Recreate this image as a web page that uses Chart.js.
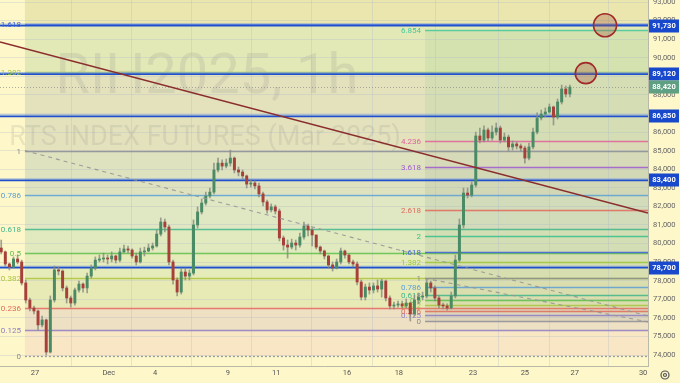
<!DOCTYPE html>
<html><head><meta charset="utf-8">
<script src="https://cdn.jsdelivr.net/npm/chart.js@4.4.1/dist/chart.umd.min.js"></script>
<style>html,body{margin:0;padding:0;background:#fdf7c9;}canvas{display:block;}</style>
</head><body>
<canvas id="c" width="680" height="383"></canvas>
<script>
// ---------- DATA (hourly-ish bars) ----------
const firstOpen = 79760;
const closes = [
79550,78900,78740,79170,79010,77880,76960,76530,76370,75620,
75890,74160,76960,78580,78520,77610,77070,76800,77500,77820,
77610,78250,78680,79110,79170,79220,79170,79330,79110,79550,
79710,79650,79330,79010,79550,79600,79760,79870,80510,81160,
80890,79010,78040,77390,78470,78250,78410,81000,81700,82180,
82560,82770,83960,84330,84170,84330,84600,83960,83850,83640,
83200,83260,83100,82670,82240,81810,81970,81750,80300,79920,
79810,80030,79920,80350,80940,80730,80460,79810,79600,79330,
78850,78680,79010,79600,79380,79010,78900,77930,77120,77660,
77500,77720,77550,77980,77070,76640,76690,76750,76640,76800,
76210,76960,77120,77180,77880,77610,77070,76690,76640,76530,
77180,79110,81000,82720,82610,83150,85790,85570,86110,85680,
86000,86220,85570,85730,85200,85360,85250,85140,84600,85200,
86000,86760,86970,87080,87350,86810,87620,88320,88050,88420];
const highs = [
80190,79600,78950,79280,79380,79110,78040,77070,76640,76420,
76100,75940,77180,78790,78740,78580,77720,77180,77610,77980,
77880,78410,78850,79280,79380,79490,79380,79550,79380,79760,
79920,79870,79710,79490,79760,79810,79980,80030,80730,81380,
81320,81000,79110,78150,78680,78680,78580,81270,81970,82400,
82770,82990,84330,84600,84500,84550,85030,84660,84120,83960,
83690,83420,83370,83260,82770,82340,82130,82070,81860,80410,
80190,80240,80190,80570,81160,81050,80840,80460,79870,79650,
79380,79010,79170,79760,79650,79440,79110,79010,78040,77820,
77880,77880,78040,78090,78040,77180,76850,76910,76910,77020,
76850,77230,77340,77390,78090,77980,77720,77180,76800,76750,
77390,79380,81320,82990,82990,83310,86000,86220,86330,86220,
86330,86490,86330,85950,85840,85520,85470,85360,85250,85410,
86220,87030,87190,87300,87510,87400,87780,88530,88480,88530];
const lows = [
79440,78790,78580,78680,78900,77770,76800,76370,76210,75350,
75510,74000,74110,76850,78310,77450,76800,76580,76690,77390,
77390,77340,78150,78580,79010,79010,78900,79010,78950,79010,
79490,79490,79220,78850,78950,79330,79550,79650,79810,80410,
80620,78850,77820,77180,77280,78040,78040,78310,80840,81590,
82070,82450,82670,83850,83960,84070,84170,83800,83640,83470,
82990,83040,82940,82510,82020,81640,81700,81590,80140,79650,
79220,79710,79650,79810,80240,80410,79870,79710,79440,79170,
78680,78520,78630,78900,79220,78900,78740,77770,76960,76960,
77280,77340,77390,77120,76910,76480,76480,76580,76530,76530,
75830,76100,76750,76960,77070,77390,76910,76530,76480,76420,
76480,77070,79010,80840,82450,82510,83040,85410,85470,85520,
85570,85840,85410,85470,84980,85030,85090,84980,84330,84500,
85090,85900,86650,86810,87030,86380,86700,87510,87890,87890];
const lastPrice = 88420;

const xTickLabels = ['27','Dec','4','9','11','16','18','23','25','27','30'];
const xTickBars   = [8.25, 26.3, 37.6, 55.4, 67.2, 84.5, 97.2, 115.3, 128.0, 140.2, 156.9];
const priceTicks  = [74000,75000,76000,77000,78000,79000,80000,81000,82000,83000,
                     84000,85000,86000,87000,88000,89000,90000,91000,92000,93000];

const hLevels = [91730, 89120, 86850, 83400, 78700];

const fib1Anchor = {bar: 5.8, p0: 73946, p1: 84996};
const fib1Levels = [0, 0.125, 0.236, 0.382, 0.5, 0.618, 0.786, 1, 1.382, 1.618];
const fib2Anchor = {bar: 103.6, p0: 75846, p1: 78128};
const fib2Levels = [0, 0.125, 0.236, 0.382, 0.5, 0.618, 0.786, 1, 1.382, 1.618, 2, 2.618, 3.618, 4.236, 6.854];

const trendLine = [{x: -0.3, y: 90850}, {x: 158.1, y: 81640}];
const dashLine1 = [{x: 5.8, y: 85000}, {x: 158.1, y: 76100}];
const dashLine2 = [{x: 103.6, y: 78130}, {x: 158.1, y: 75780}];
const circlePts = [{x: 147.6, y: 91750}, {x: 142.9, y: 89170}];

// ---------- STYLE ----------
const BASE = '#fdf7c9';
const circleRadii = [11.5, 10.5];
const levelColor = {
  '0':'#8a8d96','0.125':'#8e7cc3','0.236':'#e06a5a','0.382':'#a9c440','0.5':'#5cbf4a',
  '0.618':'#3fb58a','0.786':'#5a9fd4','1':'#8a8d96','1.382':'#9cc83a','1.618':'#3d5fd6',
  '2':'#35c08a','2.618':'#e06a5a','3.618':'#a05ad0','4.236':'#e0609a','6.854':'#45c89a'};
const fib1Zones = [
  [1.618, 2.618, '#ebe6ae'], [1.382, 1.618, '#e3e8b7'], [1, 1.382, '#e4e2bd'],
  [0.786, 1, '#dfe2bf'], [0.618, 0.786, '#dfe7c3'], [0.5, 0.618, '#e1eabe'],
  [0.382, 0.5, '#e5ebb9'], [0.236, 0.382, '#e8eab6'], [0.125, 0.236, '#ede0c3'],
  [0, 0.125, '#f8e6c5']];
const fib2Zones = [
  [4.236, 6.854, 'rgba(90,175,120,0.10)'], [3.618, 4.236, 'rgba(110,120,100,0.07)'],
  [0, 3.618, 'rgba(95,120,110,0.10)']];

const fibPrice = (a, l) => a.p0 + l * (a.p1 - a.p0);
const fmt = v => v.toLocaleString('en-US');
const opens = [firstOpen].concat(closes.slice(0, -1));
const idx = closes.map((c, i) => i);

const decor = {
  id: 'decor',
  beforeDraw(chart) {
    const {ctx, chartArea: a, scales: {x, y}} = chart;
    ctx.save();
    ctx.fillStyle = BASE; ctx.fillRect(0, 0, chart.width, chart.height);
    ctx.beginPath(); ctx.rect(a.left, a.top, a.right - a.left, a.bottom - a.top); ctx.clip();
    const zone = (anchor, zones) => {
      const xs = x.getPixelForValue(anchor.bar);
      zones.forEach(z => {
        const ya = y.getPixelForValue(fibPrice(anchor, z[0]));
        const yb = y.getPixelForValue(fibPrice(anchor, z[1]));
        ctx.fillStyle = z[2];
        ctx.fillRect(xs, Math.min(ya, yb), a.right - xs, Math.abs(yb - ya));
      });
    };
    zone(fib1Anchor, fib1Zones);
    zone(fib2Anchor, fib2Zones);
    // watermark
    ctx.fillStyle = 'rgba(110,110,110,0.14)';
    ctx.textAlign = 'center'; ctx.textBaseline = 'alphabetic';
    ctx.font = '56px Roboto';
    ctx.fillText('RIH2025, 1h', a.left + 207, a.top + 93);
    ctx.font = '27px Roboto';
    ctx.fillText('RTS INDEX FUTURES (Mar 2025)', a.left + 205, a.top + 145);
    ctx.restore();
  },
  beforeDatasetsDraw(chart) {
    const {ctx, chartArea: a, scales: {x, y}} = chart;
    ctx.save();
    ctx.beginPath(); ctx.rect(a.left, a.top, a.right - a.left, a.bottom - a.top); ctx.clip();
    const fibLines = (anchor, levels) => {
      const xs = x.getPixelForValue(anchor.bar);
      levels.forEach(l => {
        const py = Math.round(y.getPixelForValue(fibPrice(anchor, l))) + 0.5;
        ctx.strokeStyle = levelColor[String(l)];
        ctx.globalAlpha = 0.85;
        ctx.lineWidth = 1.3;
        ctx.setLineDash(l === 0 && anchor === fib1Anchor ? [2, 2] : []);
        ctx.beginPath(); ctx.moveTo(xs, py); ctx.lineTo(a.right, py); ctx.stroke();
      });
      ctx.globalAlpha = 1;
      ctx.setLineDash([]);
    };
    fibLines(fib1Anchor, fib1Levels);
    fibLines(fib2Anchor, fib2Levels);
    // current price dotted line
    const lp = Math.round(y.getPixelForValue(lastPrice)) + 0.5;
    ctx.strokeStyle = 'rgba(140,140,140,0.7)'; ctx.lineWidth = 1; ctx.setLineDash([1, 2]);
    ctx.beginPath(); ctx.moveTo(a.left, lp); ctx.lineTo(a.right, lp); ctx.stroke();
    ctx.setLineDash([]);
    // horizontal blue lines
    hLevels.forEach(p => {
      const py = y.getPixelForValue(p);
      ctx.strokeStyle = 'rgba(120,160,230,0.7)'; ctx.lineWidth = 1;
      ctx.beginPath(); ctx.moveTo(a.left, py - 1.5); ctx.lineTo(a.right, py - 1.5); ctx.stroke();
      ctx.strokeStyle = '#2050cc'; ctx.lineWidth = 1.8;
      ctx.beginPath(); ctx.moveTo(a.left, py); ctx.lineTo(a.right, py); ctx.stroke();
    });
    // fib labels on top of lines
    const fibLabels = (anchor, levels) => {
      const xs = x.getPixelForValue(anchor.bar);
      levels.forEach(l => {
        const py = Math.round(y.getPixelForValue(fibPrice(anchor, l))) + 0.5;
        ctx.fillStyle = levelColor[String(l)];
        ctx.font = '8px Roboto'; ctx.textAlign = 'right'; ctx.textBaseline = 'middle';
        ctx.fillText(String(l), xs - 4, py);
      });
    };
    fibLabels(fib1Anchor, fib1Levels);
    fibLabels(fib2Anchor, fib2Levels);
    ctx.restore();
  },
  afterDraw(chart) {
    const {ctx, chartArea: a, scales: {y}} = chart;
    ctx.save();
    const box = (p, bg) => {
      const py = y.getPixelForValue(p);
      ctx.fillStyle = bg;
      ctx.fillRect(a.right + 1, Math.round(py) - 6.5, 30, 13);
      ctx.fillStyle = '#ffffff';
      ctx.font = 'bold 7.5px Roboto'; ctx.textAlign = 'center'; ctx.textBaseline = 'middle';
      ctx.fillText(fmt(p), a.right + 16, Math.round(py) + 0.5);
    };
    hLevels.forEach(p => box(p, '#1848cc'));
    box(lastPrice, '#5f9f82');
    // settings icon
    const gx = a.right + 17, gy = a.bottom + 9;
    ctx.strokeStyle = '#555'; ctx.lineWidth = 1.2;
    ctx.beginPath(); ctx.arc(gx, gy, 4, 0, Math.PI * 2); ctx.stroke();
    ctx.beginPath(); ctx.arc(gx, gy, 1.5, 0, Math.PI * 2); ctx.stroke();
    ctx.restore();
  }
};

Chart.defaults.font.family = 'Roboto';
Chart.defaults.font.size = 7.5;

const zeroPad = s => { s.paddingTop = 0; s.paddingBottom = 0; s.paddingLeft = 0; s.paddingRight = 0; };

new Chart(document.getElementById('c'), {
  type: 'bar',
  data: {
    datasets: [
      { type: 'scatter', data: circlePts, order: 1,
        pointRadius: ctx => circleRadii[ctx.dataIndex],
        pointBackgroundColor: 'rgba(165,85,60,0.32)', pointBorderColor: '#a02a2a', pointBorderWidth: 1.6 },
      { type: 'line', data: trendLine, order: 2, borderColor: '#8b2d2d', borderWidth: 1.6, pointRadius: 0 },
      { type: 'line', data: dashLine1, order: 3, borderColor: 'rgba(150,150,150,0.9)', borderWidth: 1.1, borderDash: [4, 4], pointRadius: 0 },
      { type: 'line', data: dashLine2, order: 3, borderColor: 'rgba(150,150,150,0.9)', borderWidth: 1.1, borderDash: [4, 4], pointRadius: 0 },
      { type: 'bar', order: 4, grouped: false, barThickness: 2.3, minBarLength: 1,
        data: idx.map(i => ({x: i, y: [opens[i], closes[i]]})),
        backgroundColor: idx.map(i => closes[i] >= opens[i] ? '#4a8a64' : '#a8403a') },
      { type: 'bar', order: 5, grouped: false, barThickness: 1,
        data: idx.map(i => ({x: i, y: [Math.min(lows[i], opens[i], closes[i]), Math.max(highs[i], opens[i], closes[i])]})),
        backgroundColor: 'rgba(135,138,128,0.8)' }
    ]
  },
  options: {
    responsive: false, animation: false, devicePixelRatio: 1,
    events: [],
    layout: { padding: 0, autoPadding: false },
    plugins: { legend: { display: false }, tooltip: { enabled: false } },
    scales: {
      x: {
        type: 'linear', min: -0.3, max: 158.1, offset: false, position: 'bottom',
        grid: { color: 'rgba(170,180,200,0.28)', drawTicks: false },
        border: { color: '#b9b9a8' },
        ticks: { autoSkip: false, maxRotation: 0, padding: 3, color: '#555555',
          callback: (v, i) => xTickLabels[i] },
        afterBuildTicks: s => { s.ticks = xTickBars.map(v => ({value: v})); },
        afterFit: s => { s.height = 17; zeroPad(s); }
      },
      y: {
        type: 'linear', position: 'right', min: 73410, max: 93108,
        grid: { color: 'rgba(170,180,200,0.28)', drawTicks: false },
        border: { color: '#b9b9a8' },
        ticks: { padding: 5, color: '#666666', callback: v => fmt(v) },
        afterBuildTicks: s => { s.ticks = priceTicks.map(v => ({value: v})); },
        afterFit: s => { s.width = 32; zeroPad(s); }
      }
    }
  },
  plugins: [decor]
});
</script>
</body></html>
